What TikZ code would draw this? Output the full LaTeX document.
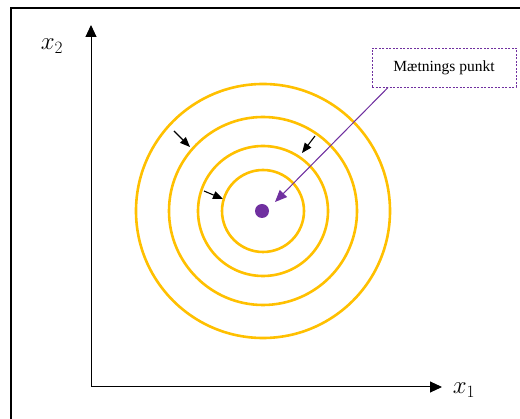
\documentclass[tikz,border=0pt]{standalone}
\usepackage{fontspec}
\setmainfont{Liberation Serif}
\usetikzlibrary{arrows.meta}
\definecolor{ring}{HTML}{FFC000}
\definecolor{purp}{HTML}{7030A0}
\begin{document}
\begin{tikzpicture}[x=1pt,y=-1pt,
  ringstyle/.style={draw=ring,line width=2.6pt},
  axisarrow/.style={line width=1pt,-{Triangle[length=12pt,width=11pt]}},
  smallarrow/.style={line width=1.1pt,-{Triangle[length=10pt,width=8pt]}},
  lbl/.style={inner sep=0pt,font=\fontsize{26}{26}\selectfont}]
\useasboundingbox (0,0) rectangle (520,419);
\clip (0,0) rectangle (520,419);
\fill[white] (0,0) rectangle (520,419);
\draw[line width=1.8pt] (11,430) -- (11,8) -- (530,8);
% axes
\coordinate (O) at (91,387);
\coordinate (ytip) at (91,25);
\coordinate (xtip) at (442,387);
\draw[axisarrow] (O) -- (ytip);
\draw[axisarrow] (O) -- (xtip);
\node[lbl] (x2) at (52,46) {$x_2$};
\node[lbl] (x1) at (464,390) {$x_1$};
% rings
\coordinate (c) at (263,211);
\draw[ringstyle] (c) circle[radius=41];
\draw[ringstyle] (c) circle[radius=65];
\draw[ringstyle] (c) circle[radius=94];
\draw[ringstyle] (c) circle[radius=127];
\node[circle,fill=purp,minimum size=14pt,inner sep=0pt] (dot) at (262,211) {};
% label box
\node[draw=purp,dash pattern=on 2pt off 1.5pt,line width=0.8pt,minimum width=144pt,minimum height=39pt,
      font=\fontsize{15.5}{15.5}\selectfont,inner sep=0pt] (box) at (444,67.5) {Mætnings punkt};
\coordinate (pstart) at (388,87.5);
\coordinate (ptip) at (275,202);
\draw[draw=purp,fill=purp,line width=1pt,-{Triangle[length=12pt,width=10pt]}] (pstart) -- (ptip);
% black arrows
\coordinate (a1s) at (174,131); \coordinate (a1t) at (190,147);
\coordinate (a2s) at (315,136); \coordinate (a2t) at (302,153);
\coordinate (a3s) at (204,191); \coordinate (a3t) at (223,199);
\draw[smallarrow] (a1s) -- (a1t);
\draw[smallarrow] (a2s) -- (a2t);
\draw[smallarrow] (a3s) -- (a3t);
\end{tikzpicture}
\end{document}
